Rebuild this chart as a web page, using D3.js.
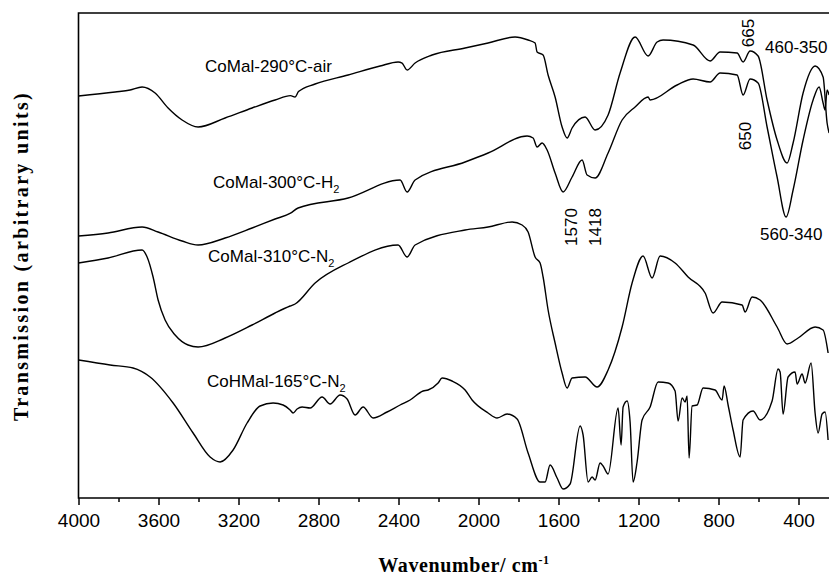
<!DOCTYPE html>
<html>
<head>
<meta charset="utf-8">
<script src="https://cdn.jsdelivr.net/npm/d3@7/dist/d3.min.js"></script>
<style>
body { margin: 0; background: #fff; }
svg { display: block; }
</style>
</head>
<body>
<svg id="chart" width="829" height="576"></svg>
<script>
// [wavenumber cm-1, transmission (arbitrary units, curves offset)]
const coMalAir = [
	[4000,100.5],[3817,101.5],[3742,102],[3682,102.75],[3617,101.25],[3552,97.5],[3482,94.5],
	[3402,92.75],[3267,95],[3132,97.5],[3017,99.5],[2940,100.6],[2917,100.25],[2900,101.6],[2817,103.5],
	[2652,105.75],[2492,108],[2402,109],[2382,108.7],[2357,107],[2317,108.75],[2232,110.75],
	[2067,112.5],[1952,113.75],[1817,115.25],[1752,114.5],[1717,113.75],[1707,111.5],[1677,110.75],
	[1652,105.75],[1617,100.25],[1582,92.75],[1557,90],[1532,92.5],[1467,95.25],[1417,92],
	[1352,95.75],[1292,106.25],[1217,115.25],[1152,110.5],[1107,114],[1077,114.5],[927,113.25],
	[842,109.25],[792,111.5],[707,111.25],[677,109],[642,111.75],[602,110.5],[557,99.5],
	[507,89.5],[457,83.75],[427,88.75],[377,101.25],[317,108],[277,105.25],[257,93.75],[247,91.25]
];
const coMalH2 = [
	[4000,65.5],[3852,66.25],[3682,67.75],[3602,66.5],[3482,64.25],[3402,63.25],[3267,65],
	[3132,67.5],[3017,69.75],[2940,71.2],[2902,72.5],[2652,75],[2392,79.5],[2357,76.5],[2317,79.5],
	[2067,84],[1952,86.25],[1757,90.5],[1727,90],[1707,87.75],[1682,88.75],[1657,87],[1617,81.25],
	[1577,76.5],[1532,80.25],[1482,84.5],[1457,80.75],[1417,80],[1352,86.25],[1282,94.5],
	[1217,97.75],[1152,100.25],[1142,99.5],[1007,103.25],[927,104.75],[842,104],[792,106.25],
	[707,105.75],[677,100.75],[642,104.75],[602,103.75],[557,92.75],[507,80.25],[462,70.25],
	[427,77],[377,89.5],[327,99.5],[297,102.75],[277,98.75],[267,97],[257,102],[247,100.75]
];
const coMalN2 = [
	[4000,58.75],[3852,60],[3682,62],[3657,60.25],[3627,55.25],[3602,49.5],[3567,44.5],[3517,40.75],
	[3452,38.25],[3402,37.75],[3267,40],[3132,43.25],[3017,46.25],[2942,48],[2917,48.5],[2817,53.75],
	[2652,58.75],[2402,63.25],[2357,60.25],[2317,63.25],[2067,67],[1952,67.75],[1832,69],
	[1782,68.25],[1752,66.5],[1717,60.25],[1692,58.75],[1677,55.25],[1652,47],[1617,38.75],
	[1582,31.25],[1557,27.5],[1532,30],[1467,30.25],[1407,27.75],[1352,32],[1282,42.75],
	[1232,53.75],[1177,60.5],[1132,55],[1092,60.5],[1017,58.75],[952,55.25],[867,51.25],
	[827,46.25],[782,49],[682,48.25],[667,46.5],[632,50.25],[592,49.5],[507,42.75],[457,38.5],
	[402,40],[317,42.75],[277,42],[252,36.25]
];
const coHMalN2 = [
	[4000,34.5],[3842,33.25],[3727,32.5],[3642,30.25],[3527,23.75],[3427,16.25],[3342,10.25],
	[3292,9],[3227,12],[3157,18.75],[3092,23],[3027,23.75],[2977,23.25],[2942,22],[2927,21.25],
	[2907,22.25],[2882,22.75],[2842,22.5],[2782,25.25],[2742,23.5],[2692,25.75],[2657,24.75],
	[2617,20.75],[2577,22.75],[2527,20],[2457,21.5],[2392,23.25],[2342,24.5],[2277,26.75],
	[2252,27],[2202,28.75],[2182,30],[2132,29.25],[2067,27],[2032,24.5],[1952,21.25],[1907,20],
	[1857,21],[1807,19.75],[1752,11.25],[1692,4],[1667,4],[1642,8.25],[1607,5],[1577,2.25],
	[1542,3.5],[1492,18],[1477,15.75],[1452,4],[1432,5.25],[1417,4.5],[1392,8.75],[1377,8],
	[1352,6],[1302,22.5],[1287,13.25],[1277,22.75],[1257,24.25],[1242,19],[1227,4],[1207,9],
	[1182,19.5],[1142,22.75],[1102,29],[1052,28.75],[1017,26.75],[1002,19.25],[982,25],[967,24],
	[957,25.5],[947,10],[932,23],[907,23.25],[877,27.5],[817,27],[782,24.5],[772,28],[752,23.25],
	[727,17],[692,10.25],[677,19.5],[627,21.75],[592,19.5],[532,24.25],[502,32.25],[492,31.5],
	[477,21],[452,30.25],[417,31.5],[407,28.5],[382,31],[367,28.75],[337,33.75],[317,21.25],
	[302,16.25],[282,21],[267,21.5],[252,14.5]
];

// series label text, split as [main, subscript]
const seriesLabels = [
	["CoMal-290°C-air", ""],
	["CoMal-300°C-H", "2"],
	["CoMal-310°C-N", "2"],
	["CoHMal-165°C-N", "2"]
];
const bandLabels = ["665", "460-350", "650", "1570", "1418", "560-340"];
const majorTicks = [4000, 3600, 3200, 2800, 2400, 2000, 1600, 1200, 800, 400];
const minorTicks = [3800, 3400, 3000, 2600, 2200, 1800, 1400, 1000, 600];

/** Draws the stacked IR spectra */
class SpectraChart {
	/**
	 * @param {string} sel - svg selector
	 */
	constructor(sel) {
		this.svg = d3.select(sel);
		this.left = 78.5;
		this.right = 830.5;
		this.top = 13;
		this.bottom = 498;
		this.x = d3.scaleLinear().domain([4000, 240]).range([this.left, this.right]);
		this.y = d3.scaleLinear().domain([0, 121.25]).range([this.bottom, this.top]);
	}

	drawAxes() {
		let svg = this.svg;
		let major = d3.axisBottom(this.x).tickValues(majorTicks).tickSize(7).tickPadding(9)
			.tickFormat(d3.format("d"));
		let minor = d3.axisBottom(this.x).tickValues(minorTicks).tickSize(4).tickFormat("");

		let gMaj = svg.append("g").attr("transform", `translate(0,${this.bottom})`).call(major);
		let gMin = svg.append("g").attr("transform", `translate(0,${this.bottom})`).call(minor);
		[gMaj, gMin].forEach(g => {
			g.select(".domain").remove();
			g.selectAll("line").attr("stroke", "#000").attr("stroke-width", 1.5);
		});
		gMaj.selectAll("text")
			.attr("fill", "#000")
			.style("font-family", "'Liberation Sans', Arial, sans-serif")
			.style("font-size", "19px");

		// frame
		svg.append("path")
			.attr("d", `M${this.left},${this.bottom}V${this.top}H${this.right}V${this.bottom}Z`)
			.attr("fill", "none")
			.attr("stroke", "#000")
			.attr("stroke-width", 1.6);

		svg.append("text")
			.attr("x", 464)
			.attr("y", 572)
			.attr("text-anchor", "middle")
			.style("font-family", "'Liberation Serif', 'Times New Roman', serif")
			.style("font-weight", "bold")
			.style("font-size", "20px")
			.style("letter-spacing", "0.6px")
			.text("Wavenumber/ cm")
			.append("tspan")
			.attr("dy", -8)
			.style("font-size", "12px")
			.text("-1");

		svg.append("text")
			.attr("transform", "translate(28,256) rotate(-90)")
			.attr("text-anchor", "middle")
			.style("font-family", "'Liberation Serif', 'Times New Roman', serif")
			.style("font-weight", "bold")
			.style("font-size", "20px")
			.style("letter-spacing", "2.35px")
			.text("Transmission (arbitrary units)");
	}

	drawCurves() {
		let line = d3.line()
			.x(d => this.x(d[0]))
			.y(d => this.y(d[1]))
			.curve(d3.curveMonotoneX);
		let series = [coMalAir, coMalH2, coMalN2, coHMalN2];
		this.svg.append("g")
			.selectAll("path")
			.data(series)
			.enter().append("path")
			.attr("d", line)
			.attr("fill", "none")
			.attr("stroke", "#000")
			.attr("stroke-width", 1.4)
			.attr("stroke-linejoin", "round");
	}

	drawLabels() {
		// anchor points in data units [wavenumber, transmission]
		let seriesPos = [[3367, 106.5], [3327, 77.5], [3352, 59], [3357, 27.75]];
		let font = "'Liberation Sans', Arial, sans-serif";

		for (let i = 0; i < seriesLabels.length; i++) {
			let t = this.svg.append("text")
				.attr("x", this.x(seriesPos[i][0]))
				.attr("y", this.y(seriesPos[i][1]))
				.style("font-family", font)
				.style("font-size", "17px")
				.text(seriesLabels[i][0]);
			if (seriesLabels[i][1] !== "") {
				t.append("tspan")
					.attr("dy", 5)
					.style("font-size", "11px")
					.text(seriesLabels[i][1]);
			}
		}

		// band labels: [wavenumber, transmission, rotated?]
		let bandPos = [
			[622, 116.25, true], [567, 111.25, false], [637, 90.5, true],
			[1507, 67.75, true], [1387, 67.75, true], [592, 64.5, false]
		];
		for (let i = 0; i < bandLabels.length; i++) {
			let px = this.x(bandPos[i][0]);
			let py = this.y(bandPos[i][1]);
			let t = this.svg.append("text")
				.style("font-family", font)
				.style("font-size", "17px")
				.text(bandLabels[i]);
			if (bandPos[i][2]) {
				t.attr("transform", `translate(${px},${py}) rotate(-90)`)
					.attr("text-anchor", "middle");
			}
			else {
				t.attr("x", px).attr("y", py);
			}
		}
	}
}

let chart = new SpectraChart("#chart");
chart.drawCurves();
chart.drawAxes();
chart.drawLabels();
</script>
</body>
</html>
